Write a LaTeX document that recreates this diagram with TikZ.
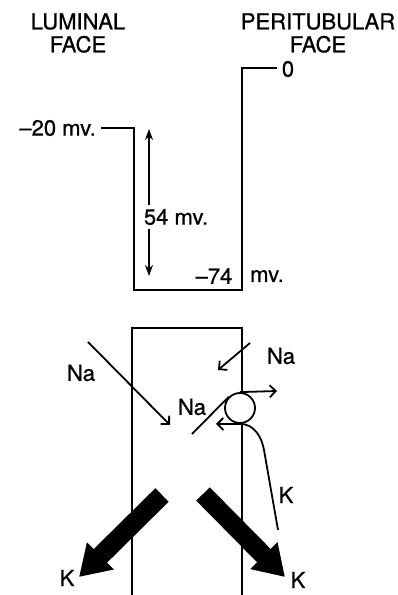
\documentclass[tikz,border=0pt]{standalone}
\usepackage{fontspec}
\setmainfont{TeX Gyre Heros}
\newfontfamily\lblfont{TeX Gyre Heros}[Ligatures=TeX, FakeBold=0.8]
\usetikzlibrary{arrows.meta}

\begin{document}
\begin{tikzpicture}
		[x=1pt, y=1pt,
		txt/.style={font=\lblfont\fontsize{22}{23}\selectfont, inner sep=1pt, align=center},
		trace/.style={black, line width=2pt, line cap=butt},
		wall/.style={black, line width=1.8pt},
		flux/.style={black, line width=1.8pt, -{Straight Barb[length=6pt,width=12pt,line width=1.8pt]}},
		span/.style={black, line width=1.8pt, -{Stealth[length=11pt,width=8pt]}},
		bigflux/.style={black, line width=19pt, line cap=butt, -{Triangle[length=30pt,width=36pt]}}
		]
		\useasboundingbox (0,0) rectangle (397,595);

        % Faces
        \node[txt] (lum) at (78,562) {LUMINAL\\FACE};
        \node[txt] (peri) at (318,562) {PERITUBULAR\\FACE};

        % Potential profile
        \node[txt, anchor=east] (m20) at (97,467) {--20 mv.};
        \node[txt] (zero) at (288,526) {0};
        \node[txt] (m74) at (214,319) {--74};
        \node[txt] (mvb) at (267,319) {mv.};
        \coordinate (lumtop) at (134,467);
        \coordinate (lumbot) at (134,305);
        \coordinate (peribot) at (242,305);
        \coordinate (peritop) at (242,527);
	    \draw[trace] ([xshift=4pt]m20.east) -- (lumtop) -- (lumbot) -- (peribot) -- (peritop) -- ([xshift=-4pt]zero.west |- peritop);

        % Potential difference
        \node[txt, outer sep=3pt] (d54) at (176,378) {54 mv.};
        \coordinate (dtop) at (149,466);
        \coordinate (dbot) at (149,319);
        \draw[span] (d54.north -| dtop) -- (dtop);
        \draw[span] (d54.south -| dbot) -- (dbot);

        % Cell walls
        \coordinate (cellL) at (132,267);
        \coordinate (cellR) at (242,267);
        \draw[wall] (cellL |- 0,0) -- (cellL) -- (cellR) -- (cellR |- 0,0);

        % Sodium entry
        \node[txt] (naL) at (81,222) {Na};
        \node[txt] (naR) at (281,239) {Na};
        \node[txt] (naM) at (192,188) {Na};
        \coordinate (naLs) at (88,253);
        \coordinate (naLe) at (170,170);
        \coordinate (naRs) at (250,252);
        \coordinate (naRe) at (218,225);
        \draw[flux] (naLs) -- (naLe);
        \draw[flux] (naRs) -- (naRe);

        % Pump
        \node[draw, circle, line width=1.8pt, minimum size=30pt, inner sep=0pt, fill=white] (pump) at (240,187) {};
        \coordinate (naMs) at (192,161);
        \coordinate (naOut) at (277,204);
        \coordinate (kIn) at (216,171);
        \draw[wall] (naMs) -- (pump.135);
        \draw[flux] (pump.north) -- (naOut);
        \draw[flux] (pump.south) -- (kIn);

        % Potassium
        \node[txt] (kR) at (286,100) {K};
        \node[txt] (kL) at (67,17) {K};
        \node[txt] (kRR) at (298,15) {K};
        \coordinate (kbend) at (264,145);
        \coordinate (kend) at (278,65);
        \draw[wall] (pump.south) to[out=0,in=100] (kbend) -- (kend);

        \coordinate (kLs) at (162,100);
        \coordinate (kLe) at (79,18);
        \coordinate (kRs) at (203,101);
        \coordinate (kRe) at (285,18);
        \draw[bigflux] (kLs) -- (kLe);
        \draw[bigflux] (kRs) -- (kRe);
\end{tikzpicture}
\end{document}
